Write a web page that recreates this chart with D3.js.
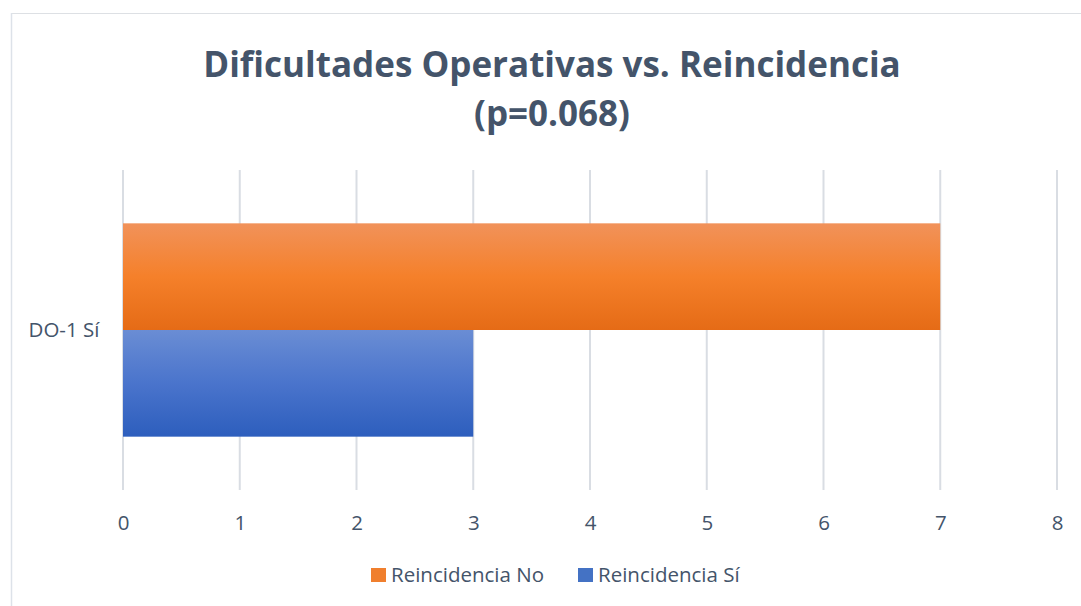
<!DOCTYPE html>
<html lang="es">
<head>
	<meta charset="utf-8">
	<title>Dificultades Operativas vs. Reincidencia</title>
	<script src="https://d3js.org/d3.v7.min.js"></script>
	<style>
		body {margin:0; background:#fff;}
		text {font-family:"Open Sans", "Noto Sans", sans-serif;}
	</style>
</head>
<body>
	<div id="chart"></div>
	<script>
		// datos del grafico
		const categories = ["DO-1 Sí"];
		const seriesNames = ["Reincidencia No", "Reincidencia Sí"];
		const seriesNo = [7];
		const seriesSi = [3];
		const xTicks = [0, 1, 2, 3, 4, 5, 6, 7, 8];
		const titleLines = ["Dificultades Operativas vs. Reincidencia", "(p=0.068)"];

		const width = 1081;
		const height = 606;
		const margin = {top: 170, right: 24, bottom: 116, left: 123};
		const textColor = "#44546A";

		const svg = d3.select("#chart")
			.append("svg")
			.attr("width", width)
			.attr("height", height);

		// gradientes de relleno
		const defs = svg.append("defs");
		const gradOrange = defs.append("linearGradient").attr("id", "gOrange")
			.attr("x1", 0).attr("y1", 0).attr("x2", 0).attr("y2", 1);
		gradOrange.append("stop").attr("offset", "0%").attr("stop-color", "#F1925A");
		gradOrange.append("stop").attr("offset", "50%").attr("stop-color", "#F5802A");
		gradOrange.append("stop").attr("offset", "100%").attr("stop-color", "#E56B16");
		const gradBlue = defs.append("linearGradient").attr("id", "gBlue")
			.attr("x1", 0).attr("y1", 0).attr("x2", 0).attr("y2", 1);
		gradBlue.append("stop").attr("offset", "0%").attr("stop-color", "#6A8DD4");
		gradBlue.append("stop").attr("offset", "50%").attr("stop-color", "#4A74CC");
		gradBlue.append("stop").attr("offset", "100%").attr("stop-color", "#2D5EBD");
		const fills = ["url(#gOrange)", "url(#gBlue)"];
		const legendFills = ["#F07F2E", "#4472C4"];

		// marco (solo arriba e izquierda quedan dentro de la imagen)
		svg.append("line")
			.attr("x1", 11).attr("x2", width).attr("y1", 13.5).attr("y2", 13.5)
			.attr("stroke", "#DDE0E4");
		svg.append("line")
			.attr("x1", 11.5).attr("x2", 11.5).attr("y1", 13).attr("y2", height)
			.attr("stroke", "#DDE2E9").attr("stroke-width", 1.5);

		const x = d3.scaleLinear()
			.domain([0, 8])
			.range([margin.left, width - margin.right]);

		const y = d3.scaleBand()
			.domain(categories)
			.range([margin.top, height - margin.bottom])
			.paddingInner(0)
			.paddingOuter(0.25);

		const ySub = d3.scaleBand()
			.domain(seriesNames)
			.range([0, y.bandwidth()]);

		// lineas de la cuadricula
		svg.append("g")
			.selectAll("line")
			.data(xTicks)
			.enter()
			.append("line")
			.attr("x1", function (d) { return x(d); })
			.attr("x2", function (d) { return x(d); })
			.attr("y1", margin.top)
			.attr("y2", height - margin.bottom)
			.attr("stroke", "#D9DDE3")
			.attr("stroke-width", 2);

		// barras
		const rows = categories.map(function (c, i) {
			return {cat: c, values: [seriesNo[i], seriesSi[i]]};
		});
		const g = svg.selectAll("g.cat")
			.data(rows)
			.enter()
			.append("g")
			.attr("class", "cat")
			.attr("transform", function (d) { return "translate(0," + y(d.cat) + ")"; });
		g.selectAll("rect")
			.data(function (d) { return d.values; })
			.enter()
			.append("rect")
			.attr("x", x(0))
			.attr("y", function (d, i) { return ySub(seriesNames[i]); })
			.attr("width", function (d) { return x(d) - x(0); })
			.attr("height", ySub.bandwidth())
			.attr("fill", function (d, i) { return fills[i]; });

		// etiquetas de categoria
		svg.selectAll("text.cat")
			.data(categories)
			.enter()
			.append("text")
			.attr("class", "cat")
			.attr("x", 64)
			.attr("y", function (d) { return y(d) + y.bandwidth() / 2; })
			.attr("dy", ".35em")
			.attr("text-anchor", "middle")
			.attr("font-size", 20.5)
			.attr("fill", textColor)
			.text(function (d) { return d; });

		// eje x
		const xAxis = svg.append("g")
			.attr("transform", "translate(0," + (height - margin.bottom) + ")")
			.call(d3.axisBottom(x).tickValues(xTicks).tickSize(0).tickPadding(25));
		xAxis.select(".domain").remove();
		xAxis.selectAll("text")
			.attr("font-size", 20.5)
			.attr("fill", textColor)
			.style("font-family", "\"Open Sans\", sans-serif");

		// titulo
		svg.append("text")
			.attr("x", 552)
			.attr("text-anchor", "middle")
			.attr("font-size", 35)
			.attr("font-weight", "bold")
			.attr("fill", textColor)
			.selectAll("tspan")
			.data(titleLines)
			.enter()
			.append("tspan")
			.attr("x", 552)
			.attr("y", function (d, i) { return 77 + i * 49; })
			.text(function (d) { return d; });

		// leyenda
		const legend = svg.append("g").attr("transform", "translate(371,575)");
		const legendX = [0, 207];
		const item = legend.selectAll("g")
			.data(seriesNames)
			.enter()
			.append("g")
			.attr("transform", function (d, i) { return "translate(" + legendX[i] + ",0)"; });
		item.append("rect")
			.attr("x", 0).attr("y", -7)
			.attr("width", 15).attr("height", 14)
			.attr("fill", function (d, i) { return legendFills[i]; });
		item.append("text")
			.attr("x", 20)
			.attr("dy", ".35em")
			.attr("font-size", 20.5)
			.attr("fill", textColor)
			.text(function (d) { return d; });
	</script>
</body>
</html>
